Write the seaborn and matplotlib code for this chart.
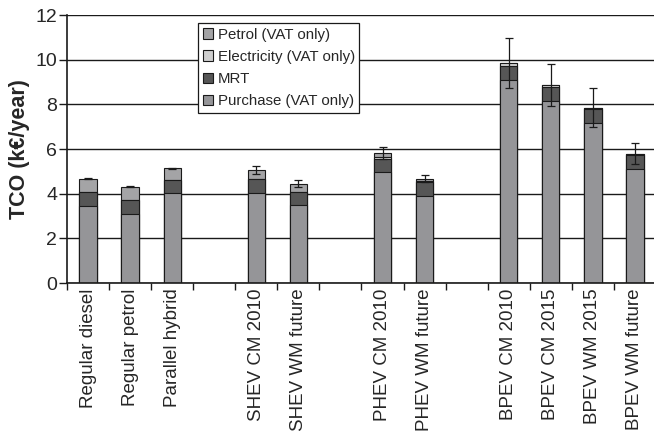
import matplotlib
matplotlib.use("Agg")
import matplotlib.pyplot as plt
from matplotlib.patches import Patch
from matplotlib.ticker import FixedLocator
import numpy as np
import pandas as pd
import seaborn as sns

# Vehicle configurations (blank entries separate the groups on the axis)
categories = ["Regular diesel", "Regular petrol", "Parallel hybrid",
              "SHEV CM 2010", "SHEV WM future",
              "PHEV CM 2010", "PHEV WM future",
              "BPEV CM 2010", "BPEV CM 2015", "BPEV WM 2015", "BPEV WM future"]
axis_order = ["Regular diesel", "Regular petrol", "Parallel hybrid", " ",
              "SHEV CM 2010", "SHEV WM future", "  ",
              "PHEV CM 2010", "PHEV WM future", "   ",
              "BPEV CM 2010", "BPEV CM 2015", "BPEV WM 2015", "BPEV WM future"]

# Cost components, k€/year
purchase    = [3.46, 3.10, 4.03, 4.01, 3.48, 4.99, 3.88, 9.09, 8.14, 7.15, 5.09]
mrt         = [0.63, 0.60, 0.60, 0.65, 0.61, 0.57, 0.63, 0.64, 0.65, 0.64, 0.64]
electricity = [0.00, 0.00, 0.00, 0.00, 0.00, 0.10, 0.07, 0.11, 0.08, 0.06, 0.06]
petrol      = [0.57, 0.61, 0.50, 0.40, 0.36, 0.15, 0.09, 0.00, 0.00, 0.00, 0.00]
tco_error   = [0.02, 0.02, 0.02, 0.16, 0.16, 0.26, 0.16, 1.12, 0.94, 0.88, 0.47]

labels = ["Petrol (VAT only)", "Electricity (VAT only)", "MRT", "Purchase (VAT only)"]
colors = {"Petrol (VAT only)": "#a4a4a6",
          "Electricity (VAT only)": "#cfcfcf",
          "MRT": "#565656",
          "Purchase (VAT only)": "#959598"}

df = pd.DataFrame({"category": categories, "purchase": purchase, "mrt": mrt,
                   "electricity": electricity, "petrol": petrol, "err": tco_error})
df["lvl_purchase"] = df["purchase"]
df["lvl_mrt"] = df["lvl_purchase"] + df["mrt"]
df["lvl_electricity"] = df["lvl_mrt"] + df["electricity"]
df["lvl_petrol"] = df["lvl_electricity"] + df["petrol"]

sns.set_theme(style="white")
plt.rcParams["font.family"] = ["Liberation Sans", "DejaVu Sans"]

fig = plt.figure(figsize=(6.54, 4.34), dpi=100)
ax = fig.add_axes([67 / 654, 1 - 283 / 434, 589 / 654, 268 / 434])

# Stacked bars: draw cumulative totals from the tallest down
layers = [("lvl_petrol", "Petrol (VAT only)"),
          ("lvl_electricity", "Electricity (VAT only)"),
          ("lvl_mrt", "MRT"),
          ("lvl_purchase", "Purchase (VAT only)")]
for col, name in layers:
    sns.barplot(data=df, x="category", y=col, order=axis_order, color=colors[name],
                saturation=1, edgecolor="#1a1a1a", linewidth=0.8, width=0.41,
                errorbar=None, ax=ax, zorder=2)

# Uncertainty on the total
xpos = [axis_order.index(c) for c in df["category"]]
ax.errorbar(xpos, df["lvl_petrol"], yerr=df["err"], fmt="none", ecolor="#1a1a1a",
            elinewidth=0.9, capsize=3, capthick=0.9, zorder=4)

ax.set_xlim(-0.5, len(axis_order) - 0.5)
ax.set_ylim(0, 12)
ax.set_yticks(np.arange(0, 13, 2))
ax.yaxis.grid(True, color="#1a1a1a", linewidth=1.0)
ax.set_axisbelow(True)

ax.set_xlabel("")
ax.set_ylabel("TCO (k€/year)", fontsize=15.5, fontweight="bold", labelpad=4)
ax.set_xticks(range(len(axis_order)))
ax.set_xticklabels(axis_order, rotation=90, fontsize=13.5)
ax.xaxis.set_minor_locator(FixedLocator(np.arange(-0.5, len(axis_order), 1.0)))
ax.tick_params(axis="x", which="major", length=0, pad=4)
ax.tick_params(axis="x", which="minor", length=5, width=1, color="#1a1a1a",
               direction="out", bottom=True)
ax.tick_params(axis="y", length=6, width=1, color="#1a1a1a", direction="out",
               labelsize=14, left=True, pad=1)

for side in ["top", "right"]:
    ax.spines[side].set_visible(False)
for side in ["left", "bottom"]:
    ax.spines[side].set_color("#1a1a1a")
    ax.spines[side].set_linewidth(1.2)

handles = [Patch(facecolor=colors[n], edgecolor="#1a1a1a", linewidth=0.8, label=n)
           for n in labels]
leg = ax.legend(handles=handles, loc="upper left",
                bbox_to_anchor=(198 / 654, 1 - 23 / 434), bbox_transform=fig.transFigure,
                fontsize=10.8, frameon=True, fancybox=False, framealpha=1,
                handlelength=0.7, handleheight=0.7, handletextpad=0.3,
                labelspacing=0.55, borderpad=0.3, borderaxespad=0)
leg.get_frame().set_edgecolor("#1a1a1a")
leg.get_frame().set_linewidth(0.9)
leg.set_zorder(5)

fig.savefig("out.png", dpi=100)
